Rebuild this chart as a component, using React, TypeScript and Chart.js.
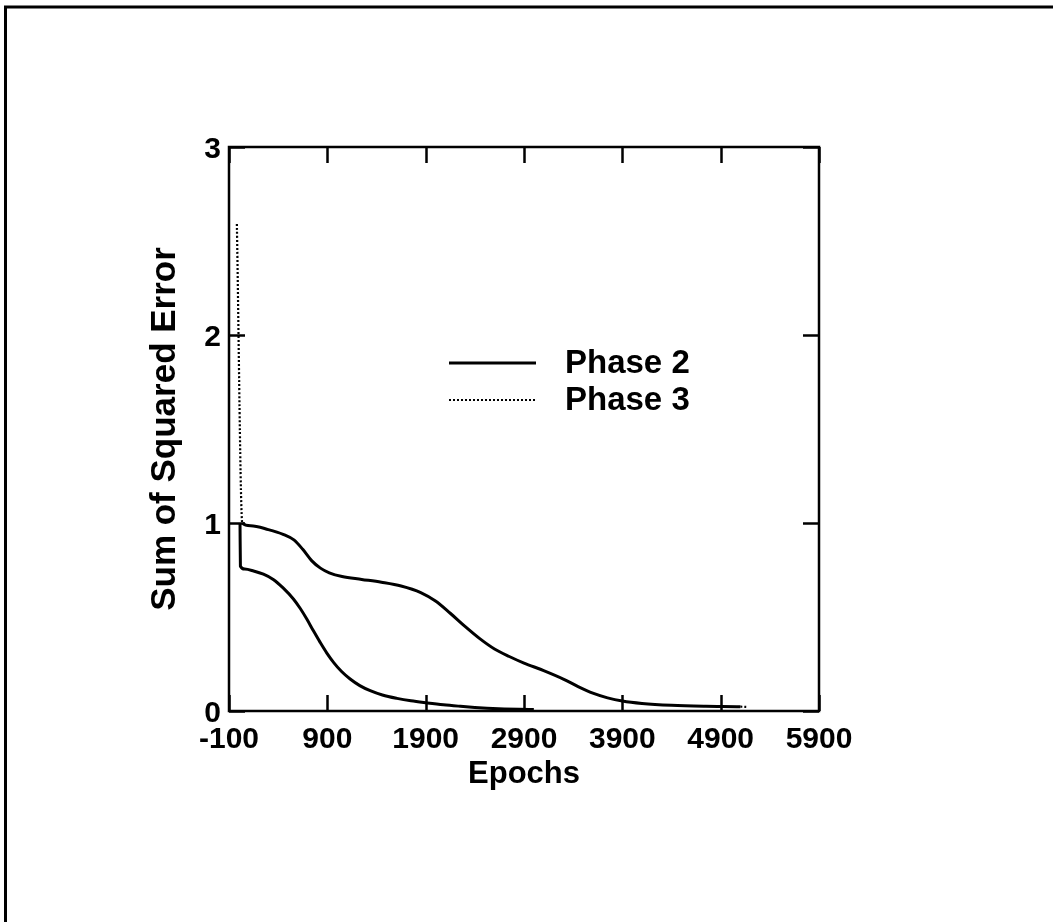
import React, { useEffect, useRef } from "react";
import { Chart, registerables } from "chart.js";

Chart.register(...registerables);

// ---- data ----
const seriesNames = ["Phase 2", "Phase 3"];

const phase2Epochs = [12, 16, 60, 150, 250, 350, 450, 555, 625, 691, 760, 827, 895, 963, 1045, 1132, 1230, 1336, 1460, 1608, 1750, 1914, 2080, 2253, 2400, 2524, 2700, 2850, 3000];
const phase2Error = [1.0, 0.77, 0.755, 0.745, 0.728, 0.7, 0.655, 0.596, 0.545, 0.489, 0.425, 0.365, 0.308, 0.259, 0.21, 0.17, 0.135, 0.108, 0.085, 0.067, 0.054, 0.043, 0.033, 0.025, 0.019, 0.015, 0.011, 0.009, 0.008];

const phase3Epochs = [-20, 35, 120, 300, 450, 560, 650, 740, 830, 920, 1050, 1250, 1450, 1650, 1850, 2000, 2150, 2300, 2450, 2600, 2750, 2900, 3100, 3300, 3450, 3600, 3750, 3900, 4100, 4400, 4750, 5100, 5160];
const phase3Error = [2.59, 1.0, 0.985, 0.965, 0.94, 0.91, 0.86, 0.8, 0.76, 0.735, 0.715, 0.7, 0.685, 0.665, 0.63, 0.585, 0.52, 0.45, 0.385, 0.33, 0.29, 0.255, 0.215, 0.17, 0.13, 0.095, 0.07, 0.053, 0.04, 0.03, 0.025, 0.023, 0.022];

const xTickValues = [-100, 900, 1900, 2900, 3900, 4900, 5900];
const yTickValues = [0, 1, 2, 3];
const xTitle = "Epochs";
const yTitle = "Sum of Squared Error";

const FONT = "'Liberation Sans', Arial, Helvetica, sans-serif";

const pageBorder = {
  id: "pageBorder",
  beforeDraw(chart: any) {
    const { ctx, width, height } = chart;
    ctx.save();
    ctx.fillStyle = "#fff";
    ctx.fillRect(0, 0, width, height);
    ctx.strokeStyle = "#000";
    ctx.lineWidth = 3;
    ctx.beginPath();
    ctx.moveTo(5.5, height);
    ctx.lineTo(5.5, 7);
    ctx.lineTo(width, 7);
    ctx.stroke();
    ctx.restore();
  },
};

const frameTicks = {
  id: "frameTicks",
  afterDatasetsDraw(chart: any) {
    const { ctx, chartArea: a, scales } = chart;
    const x = scales.x;
    const y = scales.y;
    const len = 16;
    ctx.save();
    ctx.strokeStyle = "#000";
    ctx.lineWidth = 2.5;
    ctx.strokeRect(a.left, a.top, a.right - a.left, a.bottom - a.top);
    ctx.beginPath();
    for (const t of x.ticks) {
      const px = Math.round(x.getPixelForValue(t.value)) + 0.5;
      ctx.moveTo(px, a.bottom);
      ctx.lineTo(px, a.bottom - len);
      ctx.moveTo(px, a.top);
      ctx.lineTo(px, a.top + len);
    }
    for (const t of y.ticks) {
      const py = Math.round(y.getPixelForValue(t.value)) + 0.5;
      ctx.moveTo(a.left, py);
      ctx.lineTo(a.left + len, py);
      ctx.moveTo(a.right, py);
      ctx.lineTo(a.right - len, py);
    }
    ctx.stroke();
    ctx.restore();
  },
};

const insideLegend = {
  id: "insideLegend",
  afterDraw(chart: any) {
    const { ctx } = chart;
    const rows = [363, 400];
    ctx.save();
    chart.data.datasets.forEach((ds: any, i: number) => {
      const yy = rows[i];
      ctx.strokeStyle = ds.borderColor;
      ctx.lineWidth = ds.legendLineWidth;
      ctx.setLineDash(ds.borderDash || []);
      ctx.beginPath();
      ctx.moveTo(449, yy);
      ctx.lineTo(536, yy);
      ctx.stroke();
      ctx.setLineDash([]);
      ctx.fillStyle = "#000";
      ctx.font = `bold 33px ${FONT}`;
      ctx.textBaseline = "middle";
      ctx.textAlign = "left";
      ctx.fillText(ds.label, 565, yy + 1);
    });
    ctx.restore();
  },
};

export default function App() {
  const ref = useRef<HTMLCanvasElement>(null);

  useEffect(() => {
    if (!ref.current) return;
    const p3Last = phase3Epochs.length - 1;
    const dotted = [2, 2];
    const chart = new Chart(ref.current, {
      type: "line",
      data: {
        datasets: [
          {
            label: seriesNames[0],
            data: phase2Epochs.map((e, i) => ({ x: e, y: phase2Error[i] })),
            borderColor: "#000",
            borderWidth: 3,
            legendLineWidth: 3,
            pointRadius: 0,
            cubicInterpolationMode: "monotone",
            fill: false,
          } as any,
          {
            label: seriesNames[1],
            data: phase3Epochs.map((e, i) => ({ x: e, y: phase3Error[i] })),
            borderColor: "#000",
            borderWidth: 2.2,
            legendLineWidth: 2.2,
            borderDash: dotted,
            pointRadius: 0,
            cubicInterpolationMode: "monotone",
            fill: false,
            segment: {
              borderDash: (c: any) =>
                c.p0DataIndex === 0 || c.p1DataIndex === p3Last ? dotted : [],
              borderWidth: (c: any) =>
                c.p0DataIndex === 0 || c.p1DataIndex === p3Last ? 2.2 : 3,
            },
          } as any,
        ],
      },
      options: {
        responsive: false,
        animation: false,
        events: [],
        layout: { padding: { left: 0, right: 234, top: 147, bottom: 0 } },
        plugins: {
          legend: { display: false },
          tooltip: { enabled: false },
        },
        scales: {
          x: {
            type: "linear",
            min: -100,
            max: 5900,
            grid: { display: false, drawTicks: false },
            border: { display: false },
            afterBuildTicks: (s: any) => {
              s.ticks = xTickValues.map((v) => ({ value: v }));
            },
            afterFit: (s: any) => {
              s.height = 211;
            },
            ticks: {
              autoSkip: false,
              maxRotation: 0,
              color: "#000",
              padding: 11,
              font: { family: FONT, weight: "bold", size: 30 },
              callback: (v: any) => String(v),
            },
            title: {
              display: true,
              text: xTitle,
              color: "#000",
              font: { family: FONT, weight: "bold", size: 31 },
              padding: { top: 0, bottom: 129 },
            },
          },
          y: {
            type: "linear",
            min: 0,
            max: 3,
            grid: { display: false, drawTicks: false },
            border: { display: false },
            afterBuildTicks: (s: any) => {
              s.ticks = yTickValues.map((v) => ({ value: v }));
            },
            afterFit: (s: any) => {
              s.width = 229;
            },
            ticks: {
              color: "#000",
              padding: 8,
              labelOffset: 3,
              font: { family: FONT, weight: "bold", size: 30 },
              callback: (v: any) => String(v),
            },
            title: {
              display: true,
              text: yTitle,
              color: "#000",
              font: { family: FONT, weight: "bold", size: 35 },
              padding: { top: 144, bottom: 0 },
            },
          },
        },
      } as any,
      plugins: [pageBorder, frameTicks, insideLegend],
    });
    return () => chart.destroy();
  }, []);

  return (
    <canvas
      ref={ref}
      width={1053}
      height={922}
      style={{ position: "absolute", left: 0, top: 0, width: 1053, height: 922 }}
    />
  );
}
